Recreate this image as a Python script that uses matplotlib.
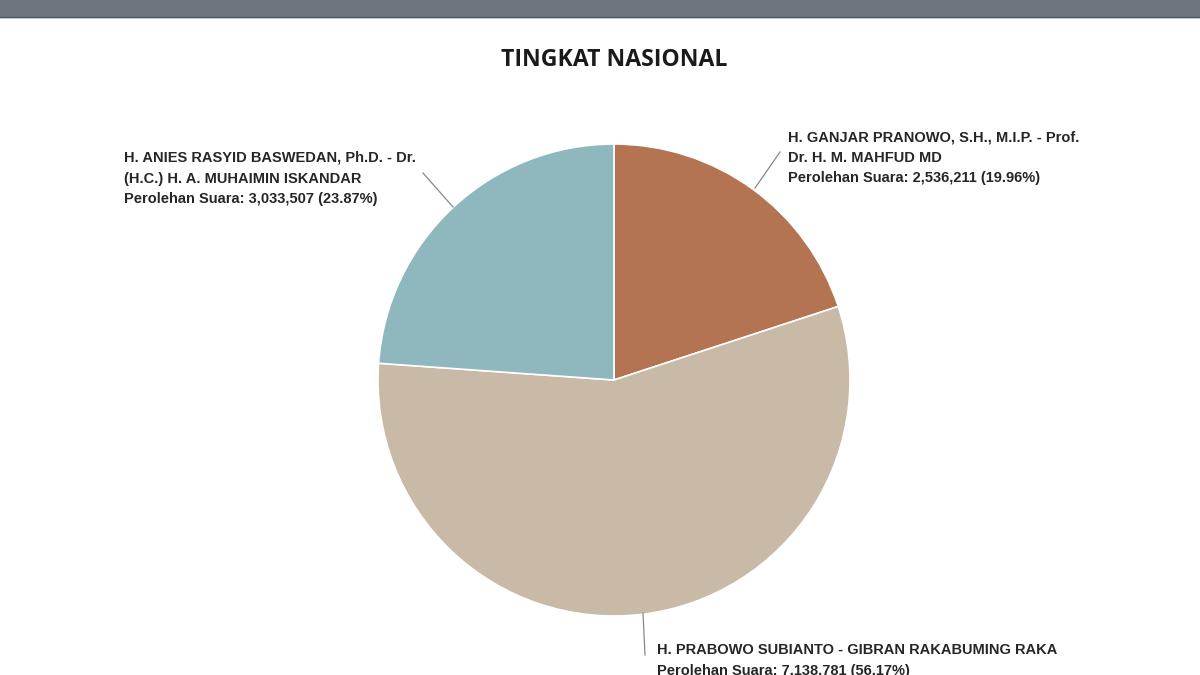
import matplotlib
matplotlib.use("Agg")
import matplotlib.pyplot as plt
from matplotlib.patches import Rectangle

W, H = 1200, 675

# data (clockwise from 12 o'clock)
candidates = [
    "H. GANJAR PRANOWO, S.H., M.I.P. - Prof.\nDr. H. M. MAHFUD MD",
    "H. PRABOWO SUBIANTO - GIBRAN RAKABUMING RAKA",
    "H. ANIES RASYID BASWEDAN, Ph.D. - Dr.\n(H.C.) H. A. MUHAIMIN ISKANDAR",
]
votes = [2536211, 7138781, 3033507]
percents = [19.96, 56.17, 23.87]
colors = ["#B47452", "#C9B9A7", "#8FB8BE"]

# label text anchor (px from top-left) and leader line endpoints
label_pos = [(788, 130), (657, 643), (124, 151)]
leaders = [((780, 152), (755, 188)), ((645, 655), (643, 613)), ((423, 173), (453, 207))]

fig = plt.figure(figsize=(W / 100, H / 100), dpi=100, facecolor="white")
ax = fig.add_axes([0, 0, 1, 1])

# top bar
ax.add_patch(Rectangle((0, H - 17), W, 17, color="#6C757D", zorder=1))
ax.plot([0, W], [H - 17, H - 17], color="#4F565C", lw=1, zorder=2)

ax.text(614, H - 60, "TINGKAT NASIONAL", ha="center", va="center",
        fontsize=16.6, fontweight="bold", family="Open Sans", color="#1a1a1a")

cx, cy, r = 614, H - 380, 236
ax.pie(votes, colors=colors, startangle=90, counterclock=False,
       center=(cx, cy), radius=r, frame=True,
       wedgeprops=dict(edgecolor="white", linewidth=1.2))
ax.set_xlim(0, W)
ax.set_ylim(0, H)
ax.set_aspect("equal")
ax.axis("off")

for name, v, p, (lx, ly), ((x0, y0), (x1, y1)) in zip(candidates, votes, percents, label_pos, leaders):
    txt = f"{name}\nPerolehan Suara: {v:,} ({p:.2f}%)"
    ax.text(lx, H - ly, txt, ha="left", va="top", fontsize=10.5,
            fontweight="bold", family="Liberation Sans", color="#262626",
            linespacing=1.6)
    ax.plot([x0, x1], [H - y0, H - y1], color="#888888", lw=0.9)

fig.savefig("out.png", dpi=100, facecolor="white")
